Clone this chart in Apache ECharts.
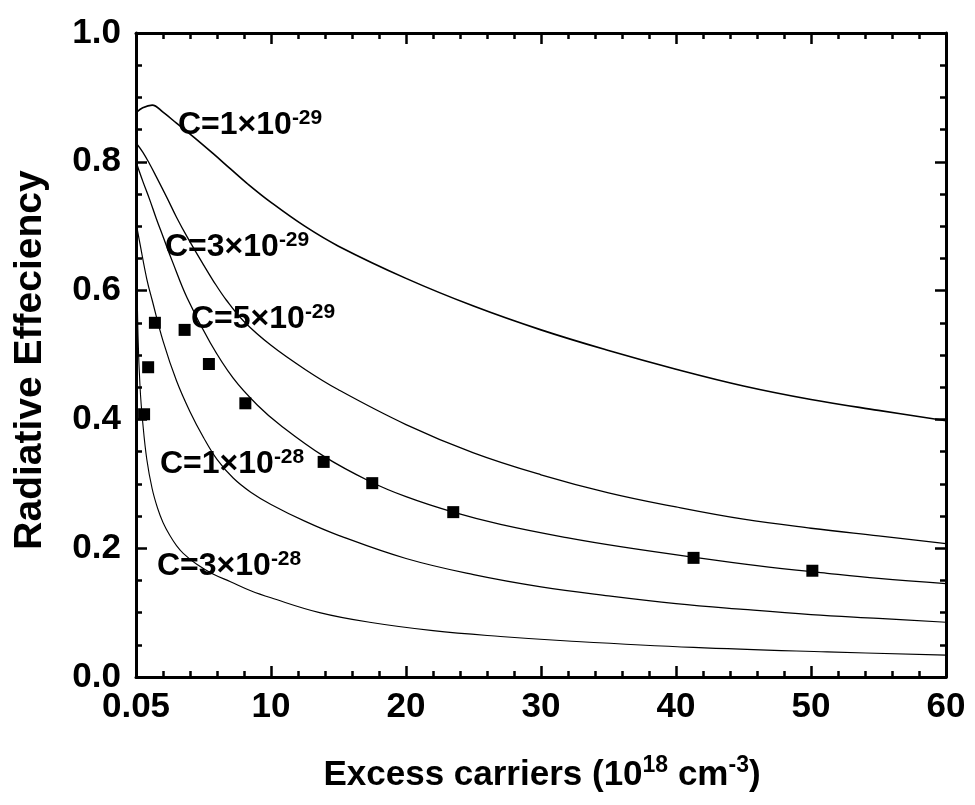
<!DOCTYPE html>
<html>
<head>
<meta charset="utf-8">
<script src="https://cdn.jsdelivr.net/npm/echarts@6/dist/echarts.min.js"></script>
<style>html,body{margin:0;padding:0;background:#fff}#c{width:975px;height:805px}</style>
</head>
<body>
<div id="c"></div>
<script>
// ---- data ----
const xTickLabels = ['0.05', '10', '20', '30', '40', '50', '60'];
const yTickLabels = ['0.0', '0.2', '0.4', '0.6', '0.8', '1.0'];

// C = 1e-29
const curveC1 = [[0.05,0.877],[0.5,0.884],[1.2,0.888],[2,0.877],[3,0.860],[4.3,0.838],[5.7,0.813],[7,0.789],[8.2,0.767],[10,0.737],[12.5,0.700],[15,0.669],[20,0.619],[25,0.576],[30,0.539],[35,0.507],[40,0.478],[45,0.452],[50,0.431],[55,0.414],[60,0.398]];
// C = 3e-29
const curveC2 = [[0.05,0.828],[0.5,0.815],[1,0.797],[1.5,0.777],[2.3,0.744],[3,0.714],[3.8,0.683],[5,0.640],[5.7,0.616],[6.7,0.585],[8,0.552],[10,0.515],[12.5,0.478],[15,0.446],[20,0.392],[25,0.348],[30,0.314],[35,0.286],[40,0.264],[45,0.245],[50,0.231],[55,0.219],[60,0.207]];
// C = 5e-29
const curveC3 = [[0.05,0.797],[0.5,0.77],[1,0.742],[1.5,0.712],[2,0.684],[2.7,0.645],[3.8,0.588],[5.5,0.519],[7.2,0.464],[9,0.422],[10.7,0.391],[13.9,0.343],[17.3,0.304],[20,0.280],[23.5,0.256],[27,0.237],[32,0.216],[36,0.202],[41.3,0.186],[46,0.173],[51.2,0.161],[55,0.153],[60,0.145]];
// C = 1e-28
const curveC4 = [[0.05,0.70],[0.3,0.672],[0.8,0.618],[1.2,0.585],[2,0.522],[3,0.460],[4,0.412],[5,0.372],[6,0.338],[7.2,0.309],[8.5,0.287],[10,0.268],[12.5,0.242],[15,0.220],[20,0.184],[25,0.159],[30,0.140],[35,0.126],[40,0.114],[45,0.105],[50,0.097],[55,0.091],[60,0.085]];
// C = 3e-28
const curveC5 = [[0.05,0.66],[0.15,0.53],[0.3,0.45],[0.5,0.395],[0.8,0.338],[1.2,0.292],[1.6,0.262],[2,0.240],[2.5,0.220],[3,0.204],[3.5,0.192],[4.5,0.175],[5.7,0.160],[7,0.148],[8.5,0.134],[10,0.123],[13.6,0.100],[17.3,0.085],[22,0.072],[27,0.063],[32,0.056],[41.3,0.046],[51.2,0.039],[60,0.034]];

// measured points
const measured = [[0.6,0.408],[0.9,0.481],[1.4,0.550],[3.6,0.539],[5.4,0.486],[8.1,0.425],[13.9,0.334],[17.5,0.301],[23.5,0.256],[41.3,0.185],[50.1,0.165]];

const curveNames = ['C=1×10', 'C=3×10', 'C=5×10', 'C=1×10', 'C=3×10'];
const curveExps = ['-29', '-29', '-29', '-28', '-28'];

// ---- chart ----
const FONT = '"Liberation Sans", Arial, sans-serif';
const chart = echarts.init(document.getElementById('c'), null, {renderer: 'canvas'});

function axisCommon() {
  return {
    axisLine: {show: true, onZero: false, lineStyle: {color: '#000', width: 3}},
    axisTick: {show: true, inside: true, length: 11, lineStyle: {color: '#000', width: 2.5}},
    minorTick: {show: true, length: 6, lineStyle: {color: '#000', width: 2.5}},
    splitLine: {show: false},
    minorSplitLine: {show: false}
  };
}

const xBase = Object.assign(axisCommon(), {type: 'value', min: 0, max: 60, interval: 10});
xBase.minorTick.splitNumber = 5;
const yBase = Object.assign(axisCommon(), {type: 'value', min: 0, max: 1, interval: 0.2});
yBase.minorTick.splitNumber = 4;

const labelStyle = {fontSize: 35, fontWeight: 'bold', color: '#000', fontFamily: FONT};

function lineSeries(data, width) {
  return {
    type: 'line', data: data, showSymbol: false, symbol: 'none',
    smooth: 0.4,
    lineStyle: {color: '#000', width: width}, z: 3, silent: true
  };
}

const labelPos = [[178, 128], [165, 250], [191, 322], [160, 467], [157, 569]];
const richLbl = {
  b: {fontSize: 32, fontWeight: 'bold', fontFamily: FONT, color: '#000', lineHeight: 34},
  s: {fontSize: 21, fontWeight: 'bold', fontFamily: FONT, color: '#000', verticalAlign: 'top', lineHeight: 34}
};

const graphics = curveNames.map((n, i) => ({
  type: 'text', left: labelPos[i][0], top: labelPos[i][1] - 20, z: 10,
  style: {text: '{b|' + n + '}{s|' + curveExps[i] + '}', rich: richLbl, fill: '#000'}
}));

graphics.push({
  type: 'text', z: 10, x: 542, y: 775,
  style: {
    text: '{b|Excess carriers (10}{s|18}{b| cm}{s|-3}{b|)}',
    textAlign: 'center', textVerticalAlign: 'middle',
    rich: {
      b: {fontSize: 35, fontWeight: 'bold', fontFamily: FONT, color: '#000', lineHeight: 42},
      s: {fontSize: 23, fontWeight: 'bold', fontFamily: FONT, color: '#000', verticalAlign: 'top', lineHeight: 42}
    }
  }
});
graphics.push({
  type: 'text', z: 10, x: 30, y: 360, rotation: Math.PI / 2,
  style: {text: 'Radiative Effeciency', fontSize: 39, fontWeight: 'bold', fontFamily: FONT, fill: '#000', textAlign: 'center', textVerticalAlign: 'middle'}
});

const option = {
  animation: false,
  backgroundColor: '#fff',
  grid: {left: 136, right: 29, top: 33, bottom: 128, containLabel: false},
  xAxis: [
    Object.assign({}, xBase, {position: 'bottom',
      axisLabel: Object.assign({}, labelStyle, {margin: 13, formatter: v => xTickLabels[Math.round(v / 10)]})}),
    Object.assign({}, xBase, {position: 'top', axisLabel: {show: false}})
  ],
  yAxis: [
    Object.assign({}, yBase, {position: 'left',
      axisLabel: Object.assign({}, labelStyle, {margin: 15, formatter: v => yTickLabels[Math.round(v / 0.2)]})}),
    Object.assign({}, yBase, {position: 'right', axisLabel: {show: false}})
  ],
  series: [
    lineSeries(curveC1, 1.6),
    lineSeries(curveC2, 1.3),
    lineSeries(curveC3, 1.3),
    lineSeries(curveC4, 1.2),
    lineSeries(curveC5, 1.1),
    {type: 'scatter', data: measured, symbol: 'rect', symbolSize: 12, itemStyle: {color: '#000', opacity: 1}, z: 4, silent: true}
  ],
  graphic: graphics
};
chart.setOption(option);
</script>
</body>
</html>
